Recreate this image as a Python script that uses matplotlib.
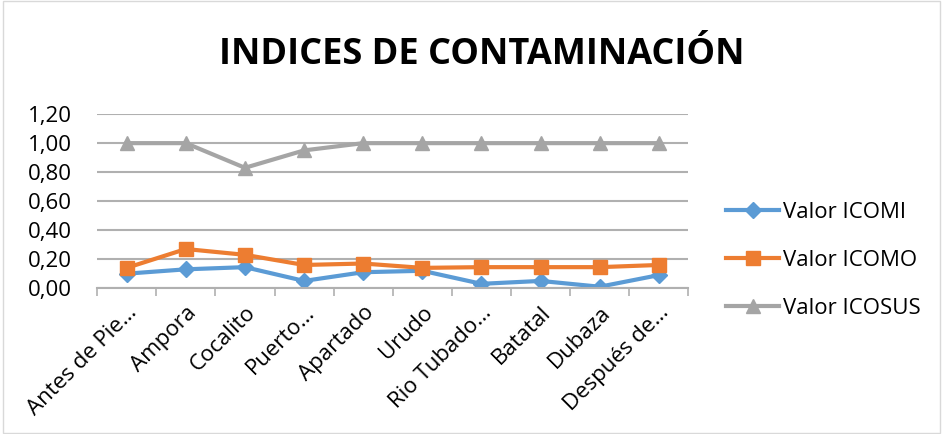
import numpy as np
import matplotlib.pyplot as plt
from matplotlib.ticker import FuncFormatter

categorias = ['Antes de Pie…', 'Ampora', 'Cocalito', 'Puerto…', 'Apartado', 'Urudo',
              'Rio Tubado…', 'Batatal', 'Dubaza', 'Después de…']
icomi = [0.10, 0.13, 0.145, 0.05, 0.11, 0.12, 0.03, 0.05, 0.01, 0.09]
icomo = [0.14, 0.27, 0.23, 0.16, 0.17, 0.14, 0.145, 0.145, 0.145, 0.16]
icosus = [1.00, 1.00, 0.83, 0.95, 1.00, 1.00, 1.00, 1.00, 1.00, 1.00]

plt.rcParams['font.family'] = ['Open Sans', 'DejaVu Sans']

fig = plt.figure(figsize=(9.43, 4.34), dpi=100)
ax = fig.add_axes([0.103, 0.336, 0.627, 0.401])

x = np.arange(len(categorias))
ax.plot(x, icomi, color='#5B9BD5', lw=3, marker='D', ms=8, label='Valor ICOMI')
ax.plot(x, icomo, color='#ED7D31', lw=3, marker='s', ms=10, label='Valor ICOMO')
ax.plot(x, icosus, color='#A5A5A5', lw=3, marker='^', ms=10, label='Valor ICOSUS')

ax.set_xlim(-0.5, len(categorias) - 0.5)
ax.set_ylim(0, 1.2)
ax.set_yticks(np.arange(0, 1.21, 0.2))
ax.yaxis.set_major_formatter(FuncFormatter(lambda v, p: f'{v:.2f}'.replace('.', ',')))
ax.grid(axis='y', color='#B0B0B0', lw=1.5)
ax.set_axisbelow(True)
for s in ['top', 'right', 'left']:
    ax.spines[s].set_visible(False)
ax.spines['bottom'].set_color('#B0B0B0')
ax.spines['bottom'].set_linewidth(1.5)

ax.set_xticks(np.arange(-0.5, len(categorias), 1), minor=False)
ax.set_xticklabels([])
ax.tick_params(axis='x', length=6, color='#B0B0B0', width=1.2)
ax.set_xticks(x, minor=True)
ax.set_xticklabels(categorias, minor=True, rotation=45, ha='right', va='top',
                   rotation_mode='anchor', fontsize=16)
ax.tick_params(axis='x', which='minor', length=0, pad=10)
ax.tick_params(axis='y', length=0, labelsize=16, pad=18)

fig.text(0.511, 0.873, 'INDICES DE CONTAMINACIÓN', ha='center', va='center',
         fontsize=26, fontweight='bold')

fig.legend(loc='center left', bbox_to_anchor=(0.770, 0.40), frameon=False, fontsize=16,
           handlelength=2.4, labelspacing=1.2, handletextpad=0.15,
           borderpad=0, borderaxespad=0)

fig.patches.append(plt.Rectangle((0.003, 0.003), 0.994, 0.994, transform=fig.transFigure,
                                 fill=False, edgecolor='#D9D9D9', lw=1))

fig.savefig('out.png', dpi=100)
